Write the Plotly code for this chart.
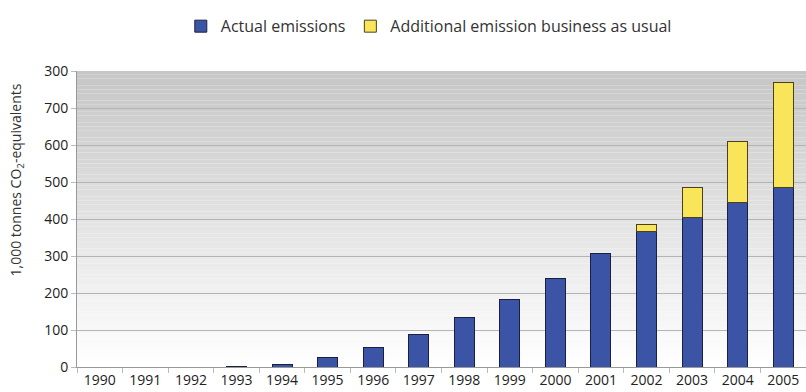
import plotly.graph_objects as go

years = [str(y) for y in range(1990, 2006)]
actual = [0, 0, 0, 2, 8, 25, 54, 89, 133, 183, 240, 307, 365, 405, 444, 486]
additional = [0, 0, 0, 0, 0, 0, 0, 0, 0, 0, 0, 0, 19, 79, 165, 284]
y_ticks = [0, 100, 200, 300, 400, 500, 600, 700, 800]
y_labels = ['0', '100', '200', '300', '400', '500', '600', '700', '300']

FONT = 'Open Sans'

fig = go.Figure()
fig.add_trace(go.Bar(x=years, y=[v if v else None for v in actual], name='Actual emissions',
                     marker=dict(color='#3c54a6', line=dict(color='#1c2040', width=1))))
fig.add_trace(go.Bar(x=years, y=[v if v else None for v in additional],
                     name='Additional emission business as usual',
                     marker=dict(color='#f8e55a', line=dict(color='#4a4020', width=1))))

# grey-to-white background gradient, drawn as thin bands under the gridlines
bands = 80
top, bottom = (198, 198, 198), (255, 255, 255)
for i in range(bands):
    t = (i + 0.5) / bands
    c = [round(bottom[k] + (top[k] - bottom[k]) * t) for k in range(3)]
    fig.add_shape(type='rect', xref='x domain', yref='y domain', x0=0, x1=1,
                  y0=i / bands, y1=(i + 1) / bands, layer='below', line_width=0,
                  fillcolor='rgb(%d,%d,%d)' % tuple(c))

fig.add_annotation(text='1,000 tonnes CO<sub>2</sub>-equivalents', textangle=-90,
                   xref='paper', yref='paper', x=-0.083, y=0.632, xanchor='center', yanchor='middle',
                   showarrow=False, font=dict(family=FONT, size=14, color='#333'))

fig.update_layout(
    width=806, height=392, barmode='stack', bargap=0.56,
    margin=dict(l=77, r=0, t=71, b=25),
    paper_bgcolor='white', plot_bgcolor='white',
    font=dict(family=FONT, size=14, color='#222'),
    legend=dict(orientation='h', xref='container', yref='container', x=0.532, y=0.933,
                xanchor='center', yanchor='middle', traceorder='normal',
                font=dict(family=FONT, size=16, color='#333'), itemwidth=30),
    showlegend=True,
)
fig.update_xaxes(type='category', automargin=False, showline=True, linecolor='#999', linewidth=1,
                 ticks='outside', tickson='boundaries', ticklen=5, tickcolor='#bbb',
                 showgrid=False, tickfont=dict(size=14, color='#222'))
fig.update_yaxes(range=[0, 800], automargin=False, tickvals=y_ticks, ticktext=y_labels, showline=True,
                 linecolor='#999', linewidth=1, ticks='outside', ticklen=5, tickcolor='#bbb',
                 gridcolor='#b4b4b4', gridwidth=1, zeroline=False, tickfont=dict(size=14, color='#222'))

# drop the page's default 8px body margin so the figure fills the window exactly
fig.write_html('out.html', config={'displayModeBar': False},
               post_script="document.body.style.margin='0';document.body.style.overflow='hidden';")
